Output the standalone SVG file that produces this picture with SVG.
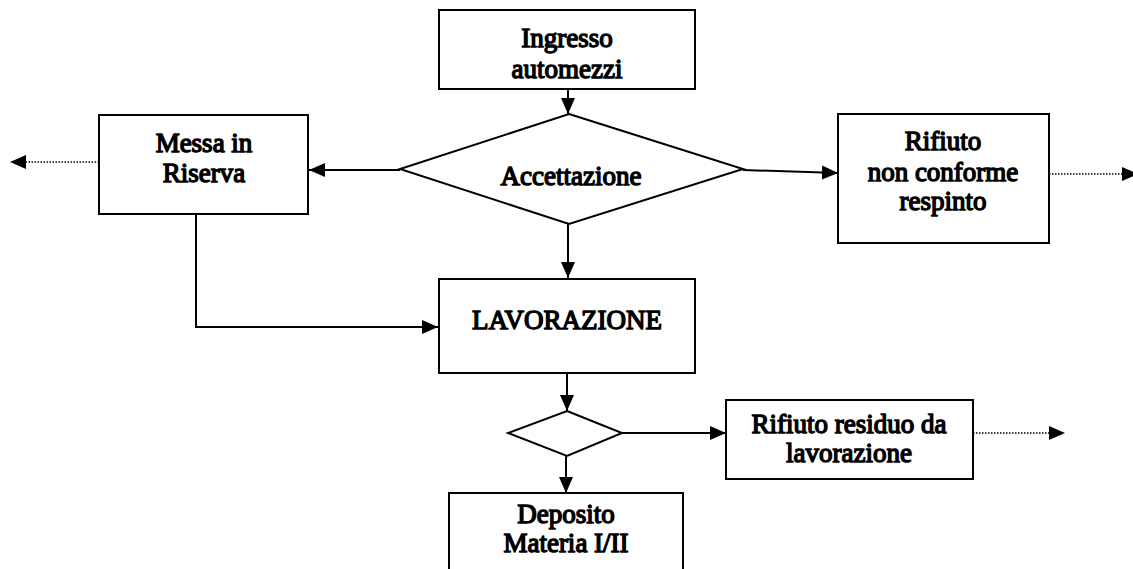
<svg xmlns="http://www.w3.org/2000/svg" width="1133" height="569" viewBox="0 0 1133 569">
<defs>
<marker id="ah" viewBox="0 0 16 14" refX="16" refY="7" markerWidth="16" markerHeight="14" markerUnits="userSpaceOnUse" orient="auto">
<path d="M0,0 L16,7 L0,14 Z" fill="#000"/>
</marker>
<style>
.box{fill:#fff;stroke:#000;stroke-width:2}
.t{font-family:'Liberation Serif','Times New Roman',serif;font-weight:400;font-size:27px;fill:#000;stroke:#000;stroke-width:1.4;stroke-linejoin:round;text-anchor:middle}
.c{fill:none;stroke:#000;stroke-width:2}
.d{fill:none;stroke:#000;stroke-width:1.5;stroke-dasharray:1.5 1.5}
</style>
</defs>
<rect width="1133" height="569" fill="#fff"/>
<g id="connectors">
<line class="c" x1="568" y1="89" x2="568" y2="114" marker-end="url(#ah)"/>
<line class="c" x1="400" y1="170" x2="309" y2="170" marker-end="url(#ah)"/>
<line class="c" x1="743" y1="170" x2="838" y2="173" marker-end="url(#ah)"/>
<line class="c" x1="568" y1="224" x2="568" y2="278" marker-end="url(#ah)"/>
<polyline class="c" points="196,214 196,327 438,327" marker-end="url(#ah)"/>
<line class="c" x1="567" y1="373" x2="567" y2="411" marker-end="url(#ah)"/>
<line class="c" x1="622" y1="433" x2="726" y2="433" marker-end="url(#ah)"/>
<line class="c" x1="566" y1="456" x2="566" y2="493" marker-end="url(#ah)"/>
<line class="d" x1="99" y1="162" x2="26" y2="162"/>
<path d="M26,155 L10,162 L26,169 Z" fill="#000"/>
<line class="d" x1="1049" y1="174" x2="1122" y2="174"/>
<path d="M1122,167 L1138,174 L1122,181 Z" fill="#000"/>
<line class="d" x1="973" y1="433" x2="1049" y2="433"/>
<path d="M1049,426 L1065,433 L1049,440 Z" fill="#000"/>
</g>
<g id="ingresso">
<rect class="box" x="439" y="10" width="256" height="79"/>
<text class="t" x="567" y="47">Ingresso</text>
<text class="t" x="567" y="78">automezzi</text>
</g>
<g id="accettazione">
<polygon class="box" points="569,114 743,169 569,224 400,169"/>
<text class="t" x="571" y="185">Accettazione</text>
</g>
<g id="messa">
<rect class="box" x="99" y="115" width="209" height="99"/>
<text class="t" x="204" y="152">Messa in</text>
<text class="t" x="204" y="182">Riserva</text>
</g>
<g id="rifiuto-nc">
<rect class="box" x="838" y="114" width="211" height="129"/>
<text class="t" x="943" y="150">Rifiuto</text>
<text class="t" x="943" y="181">non conforme</text>
<text class="t" x="943" y="210">respinto</text>
</g>
<g id="lavorazione">
<rect class="box" x="439" y="279" width="256" height="94"/>
<text class="t" x="567" y="329">LAVORAZIONE</text>
</g>
<g id="decisione">
<polygon class="box" points="567,411 622,433 567,456 508,433"/>
</g>
<g id="rifiuto-residuo">
<rect class="box" x="726" y="400" width="247" height="79"/>
<text class="t" x="849" y="433">Rifiuto residuo da</text>
<text class="t" x="849" y="462">lavorazione</text>
</g>
<g id="deposito">
<rect class="box" x="449" y="493" width="234" height="90"/>
<text class="t" x="566" y="523">Deposito</text>
<text class="t" x="566" y="552">Materia I/II</text>
</g>
</svg>
